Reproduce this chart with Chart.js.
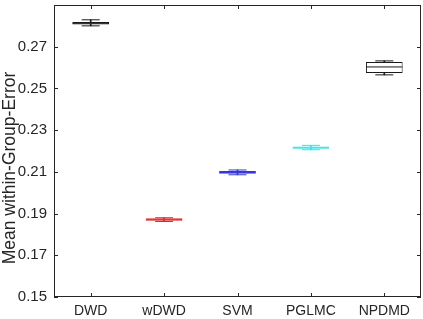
<!DOCTYPE html>
<html>
<head>
<meta charset="utf-8">
<script src="https://cdn.jsdelivr.net/npm/chart.js@4.4.1/dist/chart.umd.min.js"></script>
<style>
  html, body { margin: 0; padding: 0; background: #fff; }
  #wrap { width: 423px; height: 319px; }
</style>
</head>
<body>
<div id="wrap"><canvas id="chart" width="423" height="319"></canvas></div>
<script>
/* ---------------------------------------------------------------
   Box plot data
   --------------------------------------------------------------- */
const categories = ["DWD", "wDWD", "SVM", "PGLMC", "NPDMD"];
const whiskerLow = [0.2800, 0.1862, 0.2086, 0.2206, 0.2565];
const q1 = [0.2806, 0.1866, 0.2091, 0.2211, 0.2574];
const median = [0.2812, 0.1871, 0.2097, 0.2216, 0.2603];
const q3 = [0.2819, 0.1877, 0.2104, 0.2222, 0.2627];
const whiskerHigh = [0.2829, 0.1880, 0.2109, 0.2227, 0.2632];
const boxColors = ["#1a1a1a", "#e32626", "#3535d6", "#2ee6e6", "#1a1a1a"];
const yTicks = [0.15, 0.17, 0.19, 0.21, 0.23, 0.25, 0.27];
const yTitle = "Mean within-Group-Error";

const AXIS_COLOR = "#262626";
const FONT = "'Liberation Sans', Arial, sans-serif";

// no automatic label padding, the plot box is placed by hand
function noPad(s) {
  s.paddingLeft = 0;
  s.paddingRight = 0;
  s.paddingTop = 0;
  s.paddingBottom = 0;
}

/* -----------------------------------------------------------------
   MATLAB style box around the axes, ticks pointing inward,
   y label sits a bit below the middle like in the figure
   ----------------------------------------------------------------- */
const axesBox = {
  id: "axesBox",
  afterDraw(chart) {
    const { ctx, chartArea: a, scales } = chart;
    ctx.save();
    ctx.strokeStyle = AXIS_COLOR;
    ctx.lineWidth = 1;
    ctx.strokeRect(a.left + 0.5, a.top + 0.5, a.right - a.left - 1, a.bottom - a.top - 1);
    ctx.beginPath();
    yTicks.forEach((v) => {
      const y = Math.round(scales.y.getPixelForValue(v)) + 0.5;
      ctx.moveTo(a.left, y); ctx.lineTo(a.left + 4, y);
      ctx.moveTo(a.right, y); ctx.lineTo(a.right - 4, y);
    });
    categories.forEach((c, i) => {
      const x = Math.round(scales.x.getPixelForValue(i)) + 0.5;
      ctx.moveTo(x, a.bottom); ctx.lineTo(x, a.bottom - 4);
      ctx.moveTo(x, a.top); ctx.lineTo(x, a.top + 4);
    });
    ctx.stroke();

    ctx.translate(10, (a.top + a.bottom) / 2 + 17);
    ctx.rotate(-Math.PI / 2);
    ctx.fillStyle = AXIS_COLOR;
    ctx.font = "17.5px " + FONT;
    ctx.textAlign = "center";
    ctx.textBaseline = "middle";
    ctx.fillText(yTitle, 0, 0);
    ctx.restore();
  },
};

new Chart(document.getElementById("chart"), {
  type: "bar",
  data: {
    labels: categories,
    datasets: [
      {
        label: "whisker",
        data: categories.map((c, i) => [whiskerLow[i], whiskerHigh[i]]),
        backgroundColor: boxColors,
        barThickness: 1,
        grouped: false,
        order: 3,
      },
      {
        label: "box",
        data: categories.map((c, i) => [q1[i], q3[i]]),
        backgroundColor: "#ffffff",
        borderColor: boxColors,
        borderWidth: 1,
        borderSkipped: false,
        barPercentage: 0.5,
        categoryPercentage: 1,
        grouped: false,
        order: 2,
      },
      {
        type: "line",
        label: "median",
        data: median,
        showLine: false,
        pointStyle: "line",
        pointRadius: 18,
        pointBorderWidth: 1,
        pointBorderColor: boxColors,
        order: 1,
      },
      {
        type: "line",
        label: "capLow",
        data: whiskerLow,
        showLine: false,
        pointStyle: "line",
        pointRadius: 9,
        pointBorderWidth: 1,
        pointBorderColor: boxColors,
        order: 1,
      },
      {
        type: "line",
        label: "capHigh",
        data: whiskerHigh,
        showLine: false,
        pointStyle: "line",
        pointRadius: 9,
        pointBorderWidth: 1,
        pointBorderColor: boxColors,
        order: 1,
      },
    ],
  },
  options: {
    responsive: false,
    animation: false,
    layout: { autoPadding: false, padding: { left: 0, top: 5, right: 2, bottom: 0 } },
    plugins: { legend: { display: false }, tooltip: { enabled: false } },
    scales: {
      x: {
        offset: true,
        grid: { display: false, drawTicks: false },
        border: { display: false },
        ticks: { color: AXIS_COLOR, font: { family: FONT, size: 14 }, padding: 6, maxRotation: 0 },
        afterFit: (s) => { s.height = 22; noPad(s); },
      },
      y: {
        min: 0.15,
        max: 0.29,
        grid: { display: false, drawTicks: false },
        border: { display: false },
        afterBuildTicks: (s) => { s.ticks = yTicks.map((v) => ({ value: v })); },
        ticks: {
          color: AXIS_COLOR,
          font: { family: FONT, size: 15 },
          padding: 7,
          callback: (v) => v.toFixed(2),
        },
        afterFit: (s) => { s.width = 54; noPad(s); },
      },
    },
  },
  plugins: [axesBox],
});
</script>
</body>
</html>
